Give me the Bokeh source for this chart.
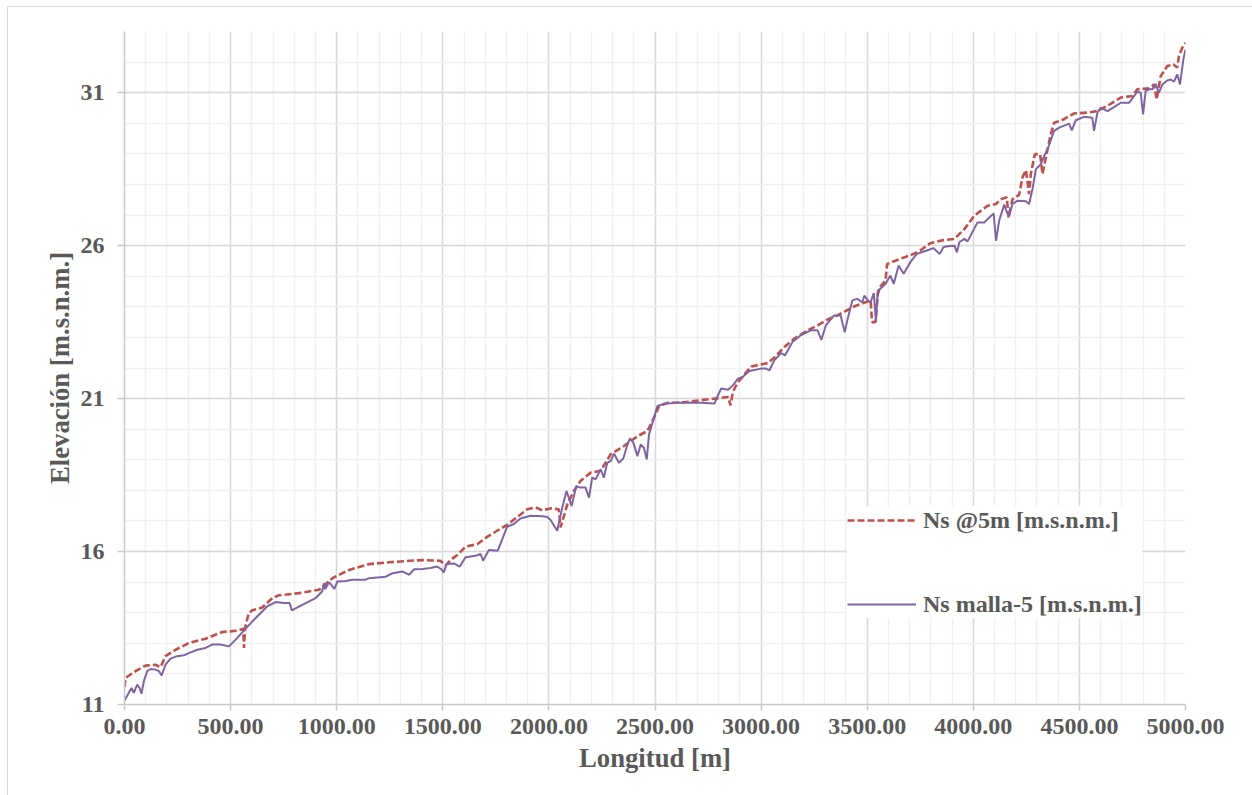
from bokeh.plotting import figure
from bokeh.models import FixedTicker, Legend, LegendItem, NumeralTickFormatter
from bokeh.embed import file_html
from bokeh.resources import INLINE

# Longitudinal profile: water surface elevation along the channel
dist_5m = [0, 5, 52, 99, 146, 170, 193, 241, 303, 382, 461, 531, 560, 563, 568,
           586, 602, 649, 697, 728, 822, 917, 980, 1058, 1153, 1247, 1347, 1410,
           1489, 1513, 1536, 1575, 1607, 1662, 1709, 1756, 1803, 1851, 1898,
           1937, 1969, 2008, 2047, 2055, 2071, 2087, 2118, 2149, 2197, 2244,
           2291, 2354, 2417, 2464, 2495, 2519, 2558, 2637, 2719, 2781, 2844,
           2856, 2867, 2891, 2953, 3031, 3062, 3109, 3156, 3219, 3266, 3312,
           3359, 3391, 3437, 3492, 3516, 3523, 3539, 3550, 3562, 3586, 3594,
           3656, 3719, 3750, 3797, 3859, 3911, 3958, 4005, 4067, 4107, 4130,
           4158, 4166, 4185, 4216, 4232, 4248, 4263, 4271, 4290, 4315, 4326,
           4342, 4365, 4381, 4412, 4475, 4538, 4585, 4632, 4695, 4750, 4773,
           4828, 4852, 4864, 4883, 4914, 4943, 4961, 4969, 4985, 5000]
elev_5m = [11.57, 11.87, 12.09, 12.27, 12.30, 12.22, 12.58, 12.79, 13.01, 13.15,
           13.37, 13.41, 13.48, 12.85, 13.50, 13.99, 14.08, 14.17, 14.48, 14.57,
           14.64, 14.75, 15.13, 15.40, 15.59, 15.65, 15.70, 15.72, 15.70, 15.54,
           15.72, 15.92, 16.16, 16.24, 16.48, 16.68, 16.87, 17.13, 17.38, 17.44,
           17.35, 17.41, 17.38, 16.79, 17.17, 17.55, 17.98, 18.31, 18.58, 18.64,
           19.18, 19.45, 19.77, 19.94, 20.37, 20.75, 20.86, 20.88, 20.95, 21.00,
           21.05, 20.78, 21.22, 21.54, 22.05, 22.16, 22.34, 22.68, 22.96, 23.23,
           23.39, 23.58, 23.72, 23.83, 24.01, 24.15, 24.21, 23.50, 23.50, 24.42,
           24.66, 24.86, 25.40, 25.57, 25.73, 25.84, 26.08, 26.18, 26.22, 26.54,
           26.98, 27.30, 27.36, 27.52, 27.58, 26.92, 27.52, 27.66, 28.23, 28.47,
           27.68, 28.34, 28.99, 28.99, 28.34, 28.88, 29.64, 30.02, 30.08, 30.32,
           30.35, 30.40, 30.57, 30.84, 30.89, 31.11, 31.14, 31.27, 30.78, 31.54,
           31.87, 31.92, 31.82, 32.20, 32.47, 32.63]

dist_malla = [0, 33, 44, 60, 71, 80, 91, 107, 123, 146, 162, 175, 193, 217, 248,
              280, 303, 343, 382, 413, 453, 492, 524, 571, 618, 673, 712, 752,
              778, 788, 838, 901, 932, 940, 945, 964, 989, 1003, 1042, 1074, 1137,
              1153, 1231, 1263, 1310, 1341, 1365, 1404, 1442, 1473, 1492, 1505,
              1517, 1552, 1580, 1607, 1654, 1678, 1690, 1717, 1759, 1803, 1835,
              1866, 1914, 1969, 1992, 2008, 2039, 2063, 2083, 2107, 2129, 2149,
              2173, 2189, 2204, 2220, 2244, 2259, 2275, 2291, 2307, 2330, 2351,
              2370, 2382, 2398, 2417, 2433, 2448, 2461, 2472, 2495, 2511, 2542,
              2605, 2715, 2781, 2797, 2812, 2844, 2867, 2891, 2914, 2945, 3000,
              3023, 3039, 3062, 3094, 3112, 3148, 3187, 3234, 3266, 3284, 3305,
              3344, 3375, 3394, 3406, 3430, 3453, 3477, 3487, 3503, 3516, 3531,
              3541, 3550, 3570, 3586, 3609, 3625, 3648, 3672, 3703, 3734, 3781,
              3812, 3841, 3859, 3871, 3911, 3923, 3934, 3958, 3973, 4003, 4020,
              4052, 4075, 4096, 4107, 4122, 4146, 4158, 4169, 4185, 4209, 4248,
              4263, 4279, 4295, 4318, 4334, 4350, 4381, 4405, 4452, 4464, 4483,
              4522, 4561, 4569, 4585, 4601, 4632, 4663, 4695, 4734, 4773, 4789,
              4800, 4812, 4828, 4844, 4859, 4875, 4891, 4914, 4930, 4946, 4961,
              4974, 4990, 5000]
elev_malla = [11.13, 11.54, 11.38, 11.65, 11.54, 11.35, 11.76, 12.09, 12.16, 12.14,
              12.09, 11.95, 12.30, 12.50, 12.58, 12.61, 12.68, 12.79, 12.85, 12.96,
              12.96, 12.90, 13.12, 13.48, 13.83, 14.21, 14.35, 14.32, 14.32, 14.08,
              14.26, 14.48, 14.70, 14.97, 14.77, 15.00, 14.78, 15.02, 15.04, 15.08,
              15.08, 15.13, 15.18, 15.29, 15.35, 15.24, 15.42, 15.43, 15.46, 15.51,
              15.43, 15.32, 15.59, 15.61, 15.51, 15.81, 15.86, 15.92, 15.70, 16.05,
              16.03, 16.81, 16.90, 17.08, 17.17, 17.15, 17.13, 17.03, 16.68, 17.44,
              17.98, 17.49, 18.14, 18.09, 18.09, 17.76, 18.42, 18.36, 18.69, 18.42,
              18.90, 18.96, 19.20, 18.90, 19.05, 19.50, 19.70, 19.56, 19.12, 19.50,
              19.39, 19.01, 19.83, 20.37, 20.75, 20.83, 20.86, 20.86, 20.84, 21.11,
              21.33, 21.29, 21.43, 21.65, 21.71, 21.90, 21.98, 21.98, 21.92, 22.25,
              22.49, 22.41, 22.85, 23.07, 23.23, 23.23, 22.92, 23.39, 23.72, 23.72,
              23.17, 23.55, 24.21, 24.26, 24.15, 24.37, 24.21, 24.15, 24.45, 23.55,
              24.53, 24.64, 24.75, 25.02, 24.75, 25.35, 25.08, 25.46, 25.73, 25.84,
              25.92, 25.73, 25.95, 25.97, 26.00, 25.78, 26.11, 26.22, 26.14, 26.54,
              26.76, 26.76, 26.92, 27.05, 26.16, 26.82, 27.34, 27.09, 26.98, 27.36,
              27.47, 27.45, 27.36, 27.85, 28.50, 28.66, 28.93, 29.15, 29.75, 29.86,
              29.99, 29.77, 30.10, 30.21, 30.18, 29.75, 30.35, 30.51, 30.40, 30.53,
              30.67, 30.67, 31.03, 31.00, 30.29, 31.05, 31.11, 31.11, 31.29, 31.00,
              31.27, 31.40, 31.43, 31.36, 31.60, 31.27, 32.09, 32.41]

x_ticks = [0, 500, 1000, 1500, 2000, 2500, 3000, 3500, 4000, 4500, 5000]
y_ticks = [11, 16, 21, 26, 31]

label_5m = "Ns @5m [m.s.n.m.]"
label_malla = "Ns malla-5 [m.s.n.m.]"

FONT = "Liberation Serif"
TEXT = "#595959"

# thin light frame around the chart area, drawn behind a transparent border fill
frame_css = ("linear-gradient(#d9d9d9, #d9d9d9) 7px 6px / 1px calc(100% - 6px) no-repeat, "
             "linear-gradient(#d9d9d9, #d9d9d9) 7px 6px / calc(100% - 7px) 1px no-repeat, "
             "white")

p = figure(width=1252, height=795, output_backend="svg", toolbar_location=None,
           x_range=(0, 5000), y_range=(11, 33),
           min_border_left=124, min_border_right=67,
           min_border_top=31, min_border_bottom=91,
           styles={"background": frame_css})
p.outline_line_color = None
p.background_fill_color = "white"
p.border_fill_alpha = 0

p.xaxis.ticker = FixedTicker(ticks=x_ticks, minor_ticks=list(range(0, 5001, 100)))
p.yaxis.ticker = FixedTicker(ticks=y_ticks, minor_ticks=list(range(11, 34)))
p.xaxis.formatter = NumeralTickFormatter(format="0.00")

for g in (p.xgrid, p.ygrid):
    g.grid_line_color = "#d9d9d9"
    g.grid_line_width = 1.5
    g.minor_grid_line_color = "#f0f0f0"
    g.minor_grid_line_width = 1.5

for ax in (p.xaxis, p.yaxis):
    ax.axis_line_color = "#c8c8c8"
    ax.axis_line_width = 1.5
    ax.major_tick_line_color = "#c8c8c8"
    ax.major_tick_line_width = 1.5
    ax.major_tick_in = 0
    ax.major_tick_out = 6
    ax.minor_tick_line_color = None
    ax.major_label_text_font = FONT
    ax.major_label_text_font_style = "bold"
    ax.major_label_text_font_size = "24px"
    ax.major_label_text_color = TEXT
    ax.axis_label_text_font = FONT
    ax.axis_label_text_font_style = "bold"
    ax.axis_label_text_font_size = "26.7px"
    ax.axis_label_text_color = TEXT

p.xaxis.axis_label = "Longitud [m]"
p.yaxis.axis_label = "Elevación [m.s.n.m.]"
p.xaxis.major_label_standoff = 8
p.yaxis.major_label_standoff = 13
p.yaxis.major_tick_out = 7
p.xaxis.axis_label_standoff = 6
p.yaxis.axis_label_standoff = 3

r_5m = p.line(dist_5m, elev_5m, line_color="#C0504D", line_width=2.6,
              line_dash="7 3")
r_malla = p.line(dist_malla, elev_malla, line_color="#8064A2", line_width=2)

legend = Legend(items=[LegendItem(label=label_5m, renderers=[r_5m]),
                       LegendItem(label=label_malla, renderers=[r_malla])],
                location=(723, 86), orientation="vertical")
legend.background_fill_color = "white"
legend.background_fill_alpha = 1.0
legend.border_line_color = None
legend.label_text_font = FONT
legend.label_text_font_style = "bold"
legend.label_text_font_size = "24px"
legend.label_text_color = TEXT
legend.glyph_width = 69
legend.glyph_height = 28
legend.label_height = 28
legend.label_standoff = 7
legend.spacing = 56
legend.padding = 20
legend.margin = 0
p.add_layout(legend, "center")

open("out.html", "w").write(file_html(p, INLINE))
